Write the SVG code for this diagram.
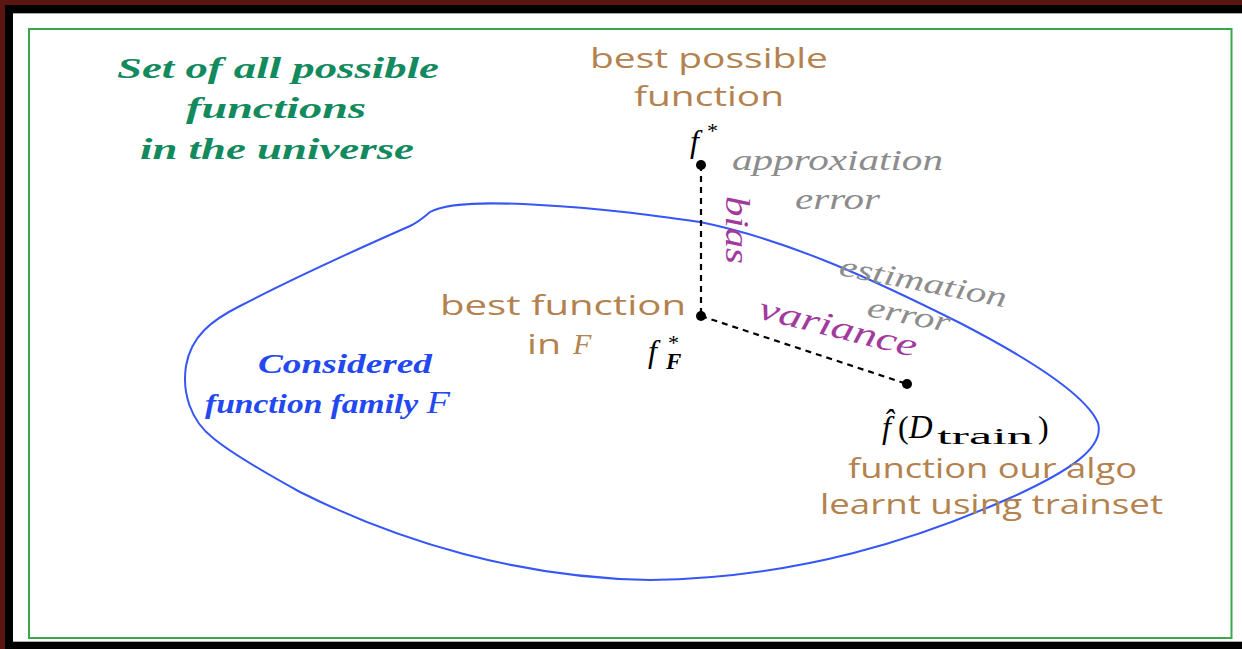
<svg xmlns="http://www.w3.org/2000/svg" width="1242" height="649" viewBox="0 0 1242 649">
<style>
.green{font-family:"Liberation Serif","DejaVu Serif",serif;font-style:italic;font-weight:bold;font-size:30px;fill:#128a5e;text-anchor:middle}
.brown{font-family:"Comic Sans MS","Open Sans","DejaVu Sans",sans-serif;font-size:27px;fill:#b3824e}
.gray{font-family:"Liberation Serif","DejaVu Serif",serif;font-style:italic;font-size:29px;fill:#8c8c8c}
.purple{font-family:"Liberation Serif","DejaVu Serif",serif;font-style:italic;font-size:33px;fill:#a23a9e}
.blue{font-family:"Liberation Serif","DejaVu Serif",serif;font-style:italic;font-weight:bold;font-size:27px;fill:#2348f2}
.math{font-family:"Liberation Serif","DejaVu Serif",serif;font-size:32px;fill:#000}
.it{font-style:italic}
.dash{stroke:#000;stroke-width:2.2;stroke-dasharray:6,5;fill:none}
</style>
<rect x="0" y="0" width="1242" height="649" fill="#ffffff"/>
<rect x="0" y="0" width="1242" height="5" fill="#5a1712"/>
<rect x="0" y="0" width="5" height="649" fill="#5a1712"/>
<rect x="5" y="5" width="1237" height="8" fill="#000"/>
<rect x="5" y="5" width="8" height="644" fill="#000"/>
<rect x="13" y="642" width="1229" height="7" fill="#000"/>
<line x1="13" y1="13.5" x2="1242" y2="13.5" stroke="#aaa" stroke-width="1"/>
<line x1="13" y1="641.5" x2="1242" y2="641.5" stroke="#aaa" stroke-width="1"/>
<rect x="29" y="29" width="1202.5" height="609" fill="none" stroke="#3aa84a" stroke-width="2"/>

<g id="universe-label">
<text class="green" x="278" y="78" textLength="322" lengthAdjust="spacingAndGlyphs">Set of all possible</text>
<text class="green" x="276" y="118" textLength="180" lengthAdjust="spacingAndGlyphs">functions</text>
<text class="green" x="277" y="159" textLength="274" lengthAdjust="spacingAndGlyphs">in the universe</text>
</g>

<g id="family">
<path d="M 430,212 C 448,202 490,202 540,205 C 600,208 650,215 700,222 C 790,240 880,283 960,323 C 1020,354 1085,392 1098,423 C 1105,448 1068,472 1010,498 C 920,538 800,578 650,580 C 520,578 400,542 300,492 C 260,470 230,452 213,438 C 190,420 182,392 186,366 C 191,336 212,320 240,306 C 290,280 360,248 410,226 C 420,221 425,216 430,212 Z" fill="none" stroke="#3656f7" stroke-width="2"/>
<text class="blue" x="258" y="373" textLength="174" lengthAdjust="spacingAndGlyphs">Considered</text>
<text class="blue" x="205" y="413" textLength="245" lengthAdjust="spacingAndGlyphs">function family <tspan style="font-weight:normal;font-size:31px">F</tspan></text>
</g>

<g id="connectors">
<line class="dash" x1="701" y1="165" x2="701" y2="316"/>
<line class="dash" x1="701" y1="316" x2="907" y2="384"/>
</g>

<g id="f-star">
<circle cx="701" cy="165" r="5" fill="#000"/>
<text class="math it" x="690" y="152">f<tspan x="707" y="138" style="font-size:22px;font-style:normal">*</tspan></text>
<text class="brown" x="590" y="68" textLength="238" lengthAdjust="spacingAndGlyphs">best possible</text>
<text class="brown" x="634" y="106" textLength="150" lengthAdjust="spacingAndGlyphs">function</text>
</g>

<g id="f-F-star">
<circle cx="701" cy="316" r="5" fill="#000"/>
<text class="math it" x="648" y="362">f<tspan x="668" y="350" style="font-size:22px;font-style:normal">*</tspan><tspan x="666" y="369" style="font-size:23px;font-weight:bold">F</tspan></text>
<text class="brown" x="440" y="315" textLength="246" lengthAdjust="spacingAndGlyphs">best function</text>
<text class="brown" x="527" y="354" textLength="34" lengthAdjust="spacingAndGlyphs">in</text>
<text class="math it" x="573" y="354" style="fill:#b3824e;font-size:30px">F</text>
</g>

<g id="f-hat">
<circle cx="907" cy="384" r="5" fill="#000"/>
<text class="math" x="882" y="438"><tspan class="it">f&#x302;</tspan><tspan x="898" y="438">(</tspan><tspan class="it" style="font-size:33px">D</tspan><tspan x="937" y="444" style="font-size:24px" textLength="96" lengthAdjust="spacingAndGlyphs">train</tspan><tspan x="1038" y="438">)</tspan></text>
<text class="brown" x="848" y="478" textLength="289" lengthAdjust="spacingAndGlyphs">function our algo</text>
<text class="brown" x="820" y="514" textLength="343" lengthAdjust="spacingAndGlyphs">learnt using trainset</text>
</g>

<g id="error-labels">
<text class="gray" x="732" y="170" textLength="211" lengthAdjust="spacingAndGlyphs">approxiation</text>
<text class="gray" x="795" y="209" textLength="85" lengthAdjust="spacingAndGlyphs">error</text>
<text class="purple" transform="translate(726,196) rotate(90)" textLength="68" lengthAdjust="spacingAndGlyphs">bias</text>
<text class="gray" transform="translate(838,275) rotate(11)" textLength="170" lengthAdjust="spacingAndGlyphs">estimation</text>
<text class="gray" transform="translate(866,316) rotate(11)" textLength="84" lengthAdjust="spacingAndGlyphs">error</text>
<text class="purple" transform="translate(757,318) rotate(14)" textLength="162" lengthAdjust="spacingAndGlyphs">variance</text>
</g>
</svg>
